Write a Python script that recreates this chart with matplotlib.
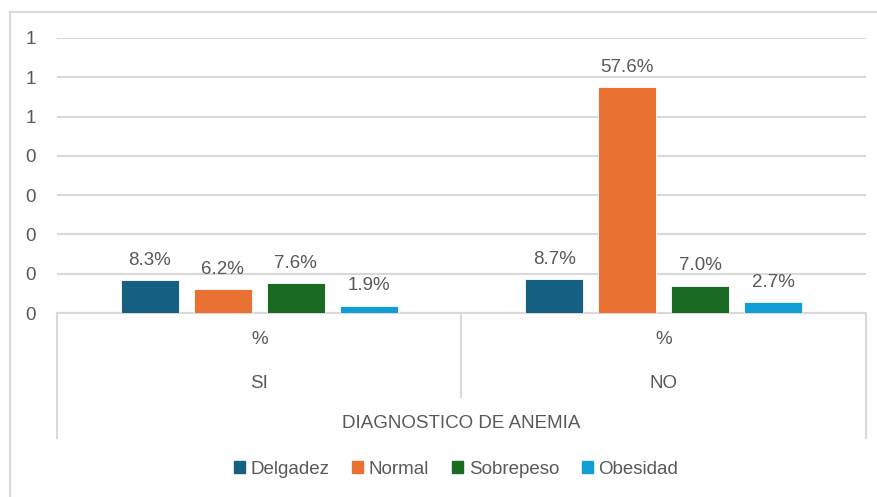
import matplotlib.pyplot as plt
import numpy as np
from matplotlib.patches import Rectangle
from matplotlib.lines import Line2D

# --- data ---
groups = ["SI", "NO"]
series = ["Delgadez", "Normal", "Sobrepeso", "Obesidad"]
delgadez = [0.083, 0.087]
normal = [0.062, 0.576]
sobrepeso = [0.076, 0.070]
obesidad = [0.019, 0.027]
sub_label = "%"
axis_title = "DIAGNOSTICO DE ANEMIA"
yticks = [0, 0.1, 0.2, 0.3, 0.4, 0.5, 0.6, 0.7]

colors = ["#156082", "#E97132", "#196B24", "#0F9ED5"]
TXT = "#595959"
GRID = "#D9D9D9"
FS = 13.5
plt.rcParams['font.family'] = ['Liberation Sans', 'DejaVu Sans']

W, H = 878, 497
fig = plt.figure(figsize=(W / 100, H / 100), dpi=100)

def fx(px):
    return px / W

def fy(py):
    return 1 - py / H

# outer chart border
fig.patches.append(Rectangle((fx(10), fy(520)), fx(900) - fx(10), fy(12) - fy(520),
                             transform=fig.transFigure, fill=False,
                             edgecolor=GRID, linewidth=1.5))

ax = fig.add_axes([fx(57), fy(313), fx(866) - fx(57), fy(38) - fy(313)])
ax.set_xlim(-0.5, 1.5)
ax.set_ylim(0, 0.7)

vals = [delgadez, normal, sobrepeso, obesidad]
x = np.arange(len(groups))
step = 73 / 404
width = 58 / 404
for i, (name, v) in enumerate(zip(series, vals)):
    pos = x + (i - 1.5) * step
    ax.bar(pos, v, width, color=colors[i], label=name, zorder=3,
           edgecolor="white", linewidth=0.6)
    for xi, vi in zip(pos, v):
        ax.annotate(f"{vi * 100:.1f}%", (xi, vi), xytext=(0, 8),
                    textcoords="offset points", ha="center", va="bottom",
                    fontsize=FS, color=TXT)

ax.set_yticks(yticks)
ax.set_yticklabels([str(int(np.floor(t + 0.5 + 1e-9))) for t in yticks])
ax.tick_params(axis="y", length=0, pad=15, labelsize=FS, labelcolor=TXT)
ax.tick_params(axis="x", length=0, labelbottom=False)
ax.grid(axis="y", color=GRID, linewidth=1.5, zorder=0)
for s in ["top", "right", "left"]:
    ax.spines[s].set_visible(False)
ax.spines["bottom"].set_color(GRID)
ax.spines["bottom"].set_linewidth(1.5)

# multi-level category axis
for xv, y_end in [(-0.5, 438), (0.5, 397), (1.5, 438)]:
    fig.lines.append(Line2D([fx(57 + (xv + 0.5) * 404.5)] * 2, [fy(313), fy(y_end)],
                            transform=fig.transFigure, color=GRID, linewidth=1.5))
for xi, g in zip(x, groups):
    xf = fx(57 + (xi + 0.5) * 404.5)
    fig.text(xf, fy(340), sub_label, ha="center", va="center", fontsize=FS, color=TXT)
    fig.text(xf, fy(383), g, ha="center", va="center", fontsize=FS, color=TXT)
fig.text(fx(461), fy(423), axis_title, ha="center", va="center", fontsize=FS, color=TXT)

handles = [Rectangle((0, 0), 1, 1, color=c) for c in colors]
fig.legend(handles, series, loc="center", bbox_to_anchor=(fx(456), fy(469)), ncol=4,
           frameon=False, fontsize=FS, labelcolor=TXT, handlelength=0.6,
           handleheight=0.6, handletextpad=0.3, columnspacing=1.2)

fig.savefig("out.png", dpi=100)
